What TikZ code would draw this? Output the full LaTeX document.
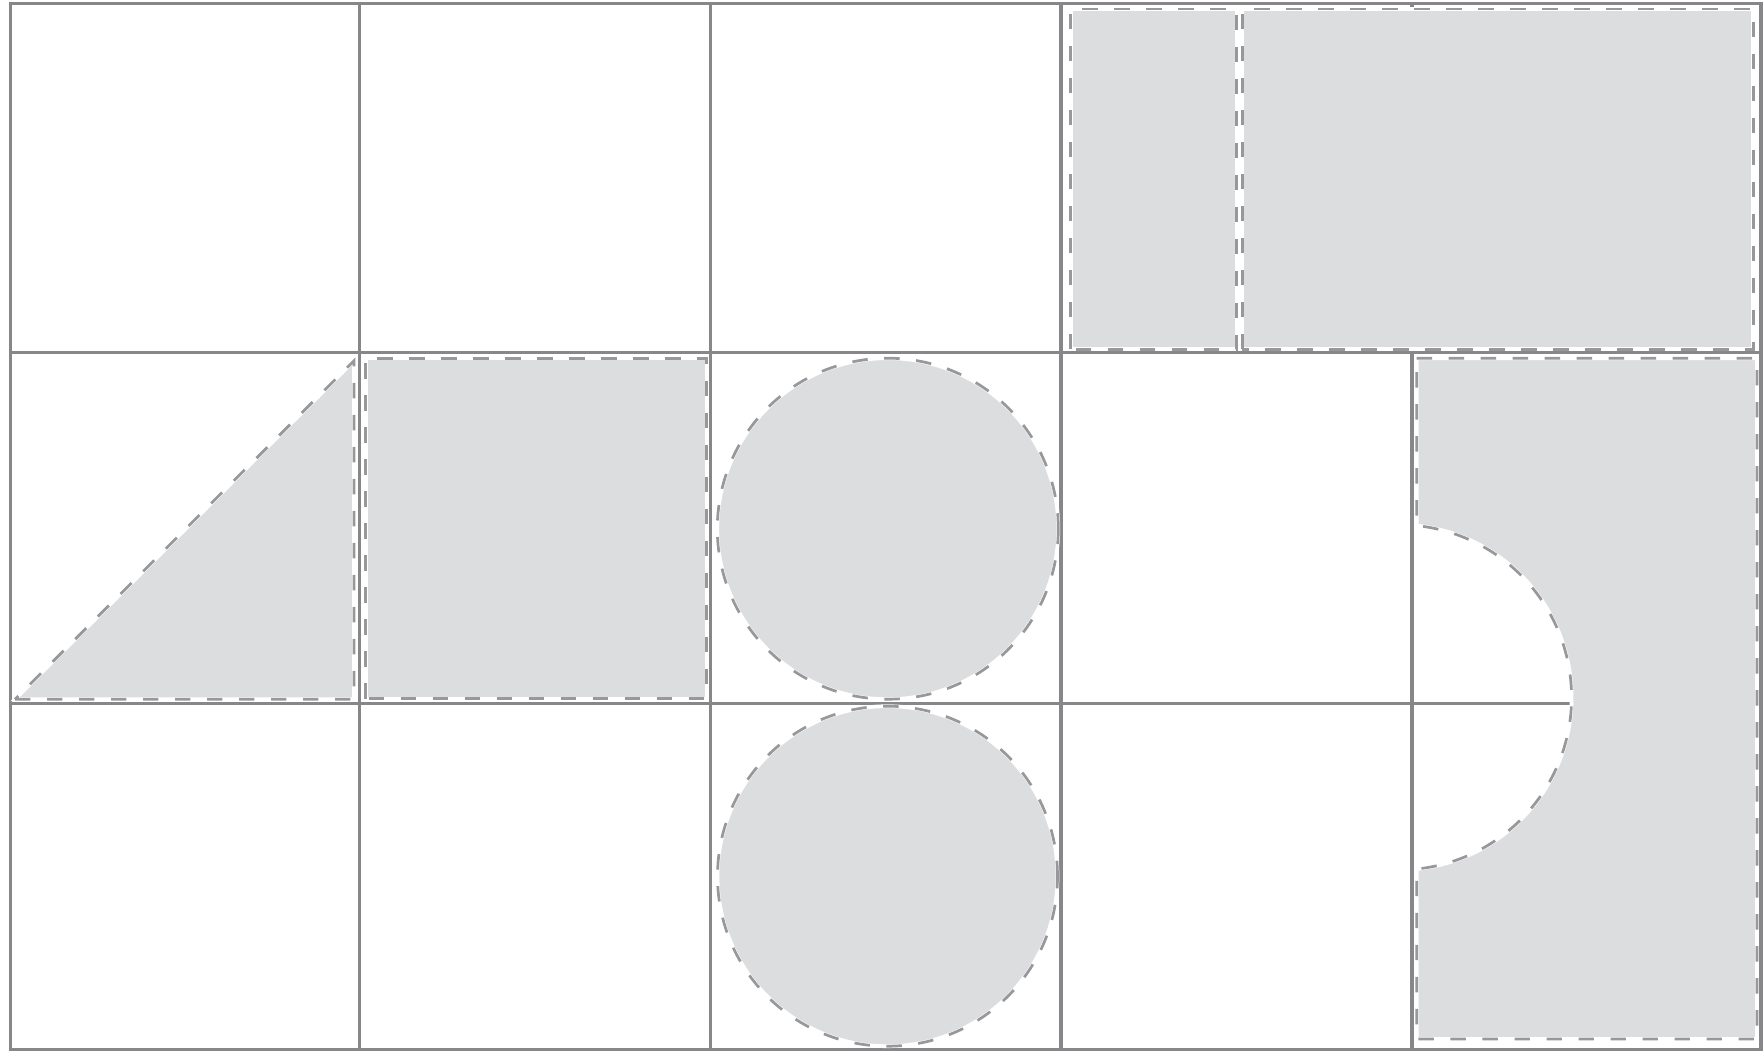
\documentclass[tikz,border=0pt]{standalone}
\definecolor{gridgray}{RGB}{135,135,138}
\definecolor{dashgray}{RGB}{152,152,154}
\definecolor{shapefill}{RGB}{220,221,223}
\tikzset{
  gridline/.style={draw=gridgray, line width=0.91pt},
  shapeunder/.style={fill=shapefill, draw=white, line width=1.05pt},
  shapeedge/.style={draw=dashgray, line width=0.77pt, dash pattern=on 4.4pt off 4.7pt},
}
\begin{document}
\begin{tikzpicture}[x=0.01cm, y=0.01cm]
\useasboundingbox (0,0) rectangle (1764,1051);
% grid
\draw[gridline] (10.5,1.7) rectangle (1761,1047.7);
\foreach \gx in {359.5,710.5,1061,1412}
  \draw[gridline] (\gx,1.7) -- (\gx,1047.7);
\foreach \gy in {698.7,347.7}
  \draw[gridline] (10.5,\gy) -- (1761,\gy);
% shapes: fill + white outline, then dashed gray outline
\foreach \st in {shapeunder,shapeedge}{
  % top row, column 4 and 4-5
  \path[\st] (1070.7,701.7) rectangle (1236.7,1042);
  \path[\st] (1242.3,701.7) rectangle (1753.3,1042);
  % row 2, column 1: triangle
  \path[\st] (15,351.7) -- (354,351.7) -- (354,690.3) -- cycle;
  % row 2, column 2: square
  \path[\st] (365.7,352.3) rectangle (706.7,692.7);
  % column 3: two circles
  \path[\st] (887.8,522.3) circle[radius=170.5];
  \path[\st] (887.5,174.8) circle[radius=170];
  % column 5, rows 2-3: rectangle with round cut-out
  \path[\st] (1416.7,692.7) -- (1757,692.7) -- (1757,12) -- (1416.7,12)
     -- (1416.7,182) arc[start angle=-84.1, end angle=84.1, radius=172.6] -- cycle;
}
\end{tikzpicture}
\end{document}
